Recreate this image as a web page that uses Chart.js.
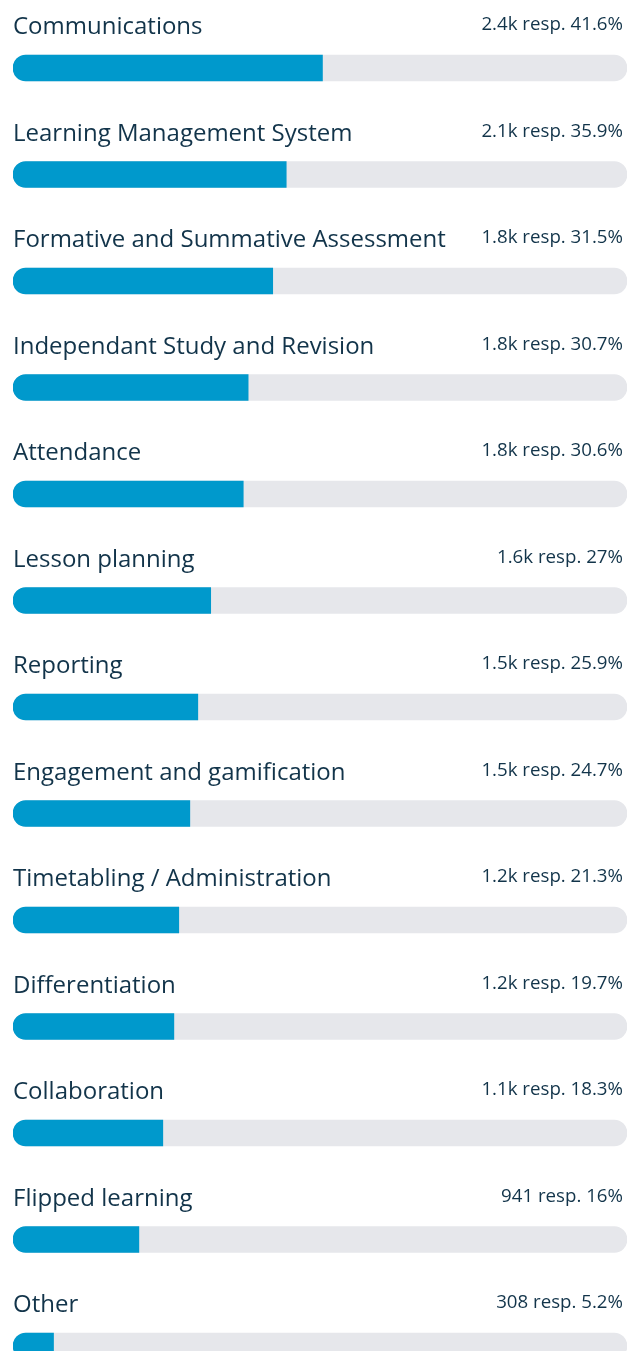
<!DOCTYPE html>
<html>
<head>
<meta charset="utf-8">
<script src="https://cdn.jsdelivr.net/npm/chart.js@4/dist/chart.umd.min.js"></script>
<style>
  html, body { margin: 0; padding: 0; background: #fff; overflow: hidden; }
  #wrap { position: relative; width: 636px; height: 1400px; }
</style>
</head>
<body>
<div id="wrap"><canvas id="bars"></canvas></div>
<script>
// --- data ---
const categories = [
  'Communications', 'Learning Management System', 'Formative and Summative Assessment',
  'Independant Study and Revision', 'Attendance', 'Lesson planning', 'Reporting',
  'Engagement and gamification', 'Timetabling / Administration', 'Differentiation',
  'Collaboration', 'Flipped learning', 'Other'
];
const responses = ['2.4k', '2.1k', '1.8k', '1.8k', '1.8k', '1.6k', '1.5k', '1.5k', '1.2k', '1.2k', '1.1k', '941', '308'];
const percents = ['41.6', '35.9', '31.5', '30.7', '30.6', '27', '25.9', '24.7', '21.3', '19.7', '18.3', '16', '5.2'];
// filled share of each track, as shown by the bars
const fillShare = [50.4, 44.5, 42.3, 38.3, 37.5, 32.2, 30.1, 28.8, 27.0, 26.2, 24.4, 20.5, 6.6];
const trackMax = 100;

const BLUE = '#0099cc';
const TRACK = '#e6e7eb';
const INK = '#12344a';

// labels above each bar: name on the left, count + share on the right
const rowText = {
  id: 'rowText',
  afterDatasetsDraw(chart) {
    const { ctx, chartArea } = chart;
    const meta = chart.getDatasetMeta(0);
    ctx.save();
    ctx.fillStyle = INK;
    meta.data.forEach((bar, i) => {
      ctx.font = '24px "Open Sans"';
      ctx.textAlign = 'left';
      ctx.textBaseline = 'alphabetic';
      ctx.fillText(categories[i], chartArea.left, bar.y - 34);
      ctx.font = '18.7px "Open Sans"';
      ctx.textAlign = 'right';
      ctx.fillText(responses[i] + ' resp. ' + percents[i] + '%', chartArea.right - 4, bar.y - 38);
    });
    ctx.restore();
  }
};

new Chart(document.getElementById('bars'), {
  type: 'bar',
  data: {
    labels: categories,
    datasets: [
      {
        data: fillShare,
        backgroundColor: BLUE,
        borderSkipped: false,
        borderRadius: { topLeft: 13, bottomLeft: 13, topRight: 0, bottomRight: 0 },
        barThickness: 26,
        grouped: false
      },
      {
        data: categories.map(() => trackMax),
        backgroundColor: TRACK,
        borderSkipped: false,
        borderRadius: 13,
        barThickness: 26,
        grouped: false
      }
    ]
  },
  options: {
    indexAxis: 'y',
    responsive: true,
    maintainAspectRatio: false,
    animation: false,
    layout: { padding: { top: 14.75, bottom: 0.75, left: 13, right: 9 } },
    scales: {
      x: { display: false, min: 0, max: trackMax },
      y: { display: false }
    },
    plugins: { legend: { display: false }, tooltip: { enabled: false } }
  },
  plugins: [rowText]
});
</script>
</body>
</html>
